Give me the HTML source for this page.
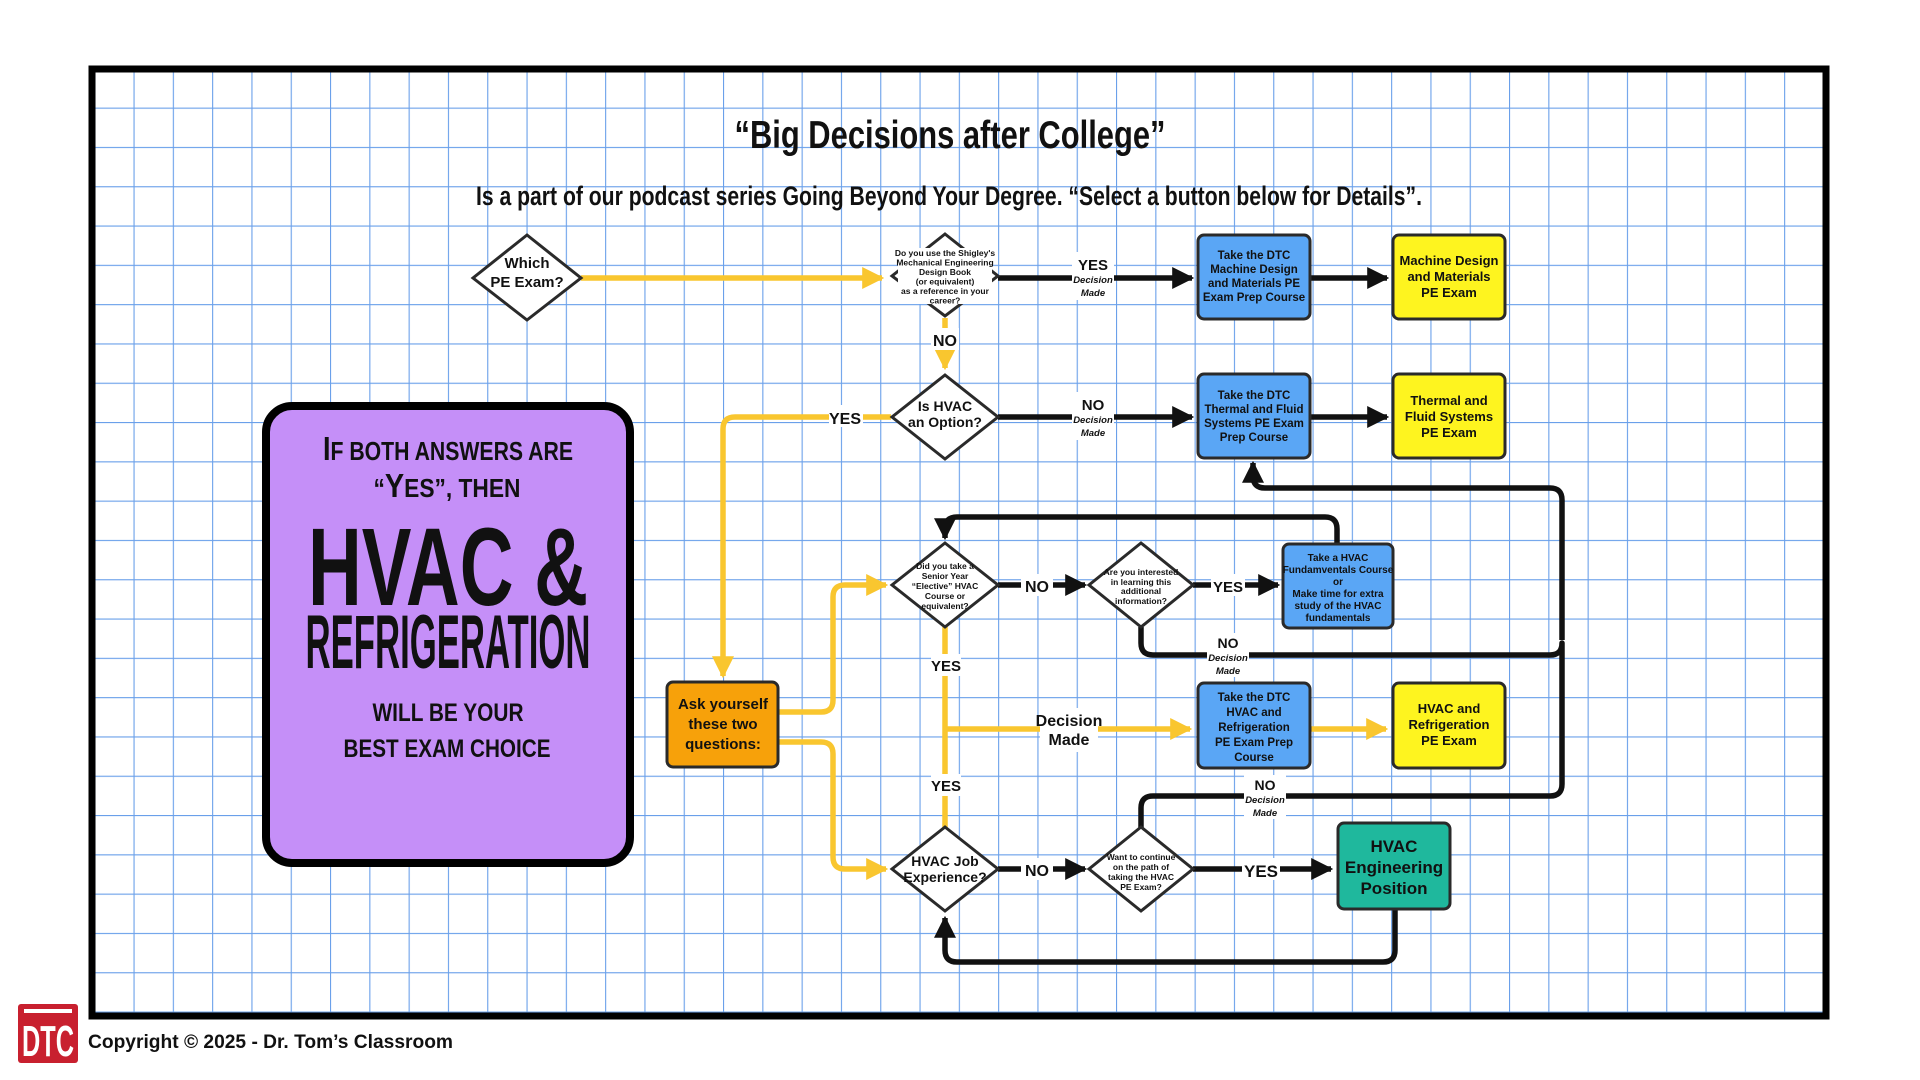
<!DOCTYPE html>
<html><head><meta charset="utf-8"><style>
html,body{margin:0;padding:0;background:#fff;width:1920px;height:1080px;overflow:hidden}
svg{display:block}
text{font-family:"Liberation Sans Narrow","Liberation Sans",sans-serif;font-weight:bold;fill:#111}
</style></head><body>
<svg width="1920" height="1080" viewBox="0 0 1920 1080" xmlns="http://www.w3.org/2000/svg">
<defs>
<pattern id="g" x="94.2" y="68.3" width="39.3" height="39.3" patternUnits="userSpaceOnUse">
<path d="M0 0V39.3M0 0H39.3" stroke="#6aa0ea" stroke-width="2.2" fill="none"/>
</pattern>
<marker id="ab" viewBox="0 0 10 10" refX="9" refY="5" markerWidth="4" markerHeight="4" orient="auto"><path d="M0 0L10 5L0 10z" fill="#111"/></marker>
<marker id="ay" viewBox="0 0 10 10" refX="9" refY="5" markerWidth="4" markerHeight="4" orient="auto"><path d="M0 0L10 5L0 10z" fill="#f9c62f"/></marker>
</defs>
<rect x="92" y="69" width="1734" height="947" fill="url(#g)"/>
<rect x="92" y="69" width="1734" height="947" fill="none" stroke="#000" stroke-width="7"/>

<text x="950" y="148" font-size="39" text-anchor="middle" textLength="431" lengthAdjust="spacingAndGlyphs">“Big Decisions after College”</text>
<text x="949" y="205" font-size="27" text-anchor="middle" textLength="946" lengthAdjust="spacingAndGlyphs">Is a part of our podcast series Going Beyond Your Degree. “Select a button below for Details”.</text>

<g fill="none" stroke="#f9c62f" stroke-width="5.5" stroke-linejoin="round">
<path d="M581 278H882" marker-end="url(#ay)"/>
<path d="M945 318V368" marker-end="url(#ay)"/>
<path d="M891 417H735Q723 417 723 429V676" marker-end="url(#ay)"/>
<path d="M779 712H821Q833 712 833 700V597Q833 585 845 585H886" marker-end="url(#ay)"/>
<path d="M779 742H821Q833 742 833 754V857Q833 869 845 869H886" marker-end="url(#ay)"/>
<path d="M945 627V828"/>
<path d="M945 729H1190" marker-end="url(#ay)"/>
<path d="M1310 729H1386" marker-end="url(#ay)"/>
</g>
<g fill="none" stroke="#111" stroke-width="5.5" stroke-linejoin="round">
<path d="M998 278H1192" marker-end="url(#ab)"/>
<path d="M1310 278H1387" marker-end="url(#ab)"/>
<path d="M998 417H1192" marker-end="url(#ab)"/>
<path d="M1310 417H1387" marker-end="url(#ab)"/>
<path d="M998 585H1085" marker-end="url(#ab)"/>
<path d="M1193 585H1278" marker-end="url(#ab)"/>
<path d="M998 869H1085" marker-end="url(#ab)"/>
<path d="M1193 869H1331" marker-end="url(#ab)"/>
<path d="M1337 544V529Q1337 517 1325 517H957Q945 517 945 529V538" marker-end="url(#ab)"/>
<path d="M1562 640V500Q1562 488 1550 488H1265Q1253 488 1253 476V463" marker-end="url(#ab)"/>
<path d="M1141 627V643Q1141 655 1153 655H1550Q1562 655 1562 643V784Q1562 796 1550 796H1153Q1141 796 1141 808V828"/>
<path d="M1395 909V950Q1395 962 1383 962H957Q945 962 945 950V918" marker-end="url(#ab)"/>
</g>

<g text-anchor="middle">
<rect x="1072" y="252" width="42" height="48" fill="#fff"/>
<text x="1093" y="270" font-size="15">YES</text>
<text x="1093" y="283" font-size="9.5" font-style="italic">Decision</text>
<text x="1093" y="296" font-size="9.5" font-style="italic">Made</text>
<rect x="1072" y="392" width="42" height="48" fill="#fff"/>
<text x="1093" y="410" font-size="15">NO</text>
<text x="1093" y="423" font-size="9.5" font-style="italic">Decision</text>
<text x="1093" y="436" font-size="9.5" font-style="italic">Made</text>
<rect x="931" y="328" width="28" height="22" fill="#fff"/>
<text x="945" y="346" font-size="16">NO</text>
<rect x="829" y="405" width="34" height="22" fill="#fff"/>
<text x="845" y="424" font-size="16">YES</text>
<rect x="1021" y="574" width="32" height="22" fill="#fff"/>
<text x="1037" y="592" font-size="16">NO</text>
<rect x="1211" y="574" width="34" height="22" fill="#fff"/>
<text x="1228" y="592" font-size="15">YES</text>
<rect x="1021" y="858" width="32" height="22" fill="#fff"/>
<text x="1037" y="876" font-size="16">NO</text>
<rect x="1242" y="858" width="38" height="22" fill="#fff"/>
<text x="1261" y="877" font-size="17">YES</text>
<rect x="931" y="654" width="30" height="22" fill="#fff"/>
<text x="946" y="671" font-size="15">YES</text>
<rect x="931" y="774" width="30" height="22" fill="#fff"/>
<text x="946" y="791" font-size="15">YES</text>
<rect x="1040" y="708" width="58" height="44" fill="#fff"/>
<text x="1069" y="726" font-size="16">Decision</text>
<text x="1069" y="745" font-size="16">Made</text>
<rect x="1207" y="633" width="42" height="44" fill="#fff"/>
<text x="1228" y="648" font-size="14">NO</text>
<text x="1228" y="661" font-size="9.5" font-style="italic">Decision</text>
<text x="1228" y="674" font-size="9.5" font-style="italic">Made</text>
<rect x="1244" y="775" width="42" height="44" fill="#fff"/>
<text x="1265" y="790" font-size="14">NO</text>
<text x="1265" y="803" font-size="9.5" font-style="italic">Decision</text>
<text x="1265" y="816" font-size="9.5" font-style="italic">Made</text>
</g>

<g fill="#fff" stroke="#2a2a2a" stroke-width="3">
<path d="M527 235L581 278L527 320L473 278Z"/>
<path d="M945 234L998 276L945 316L892 276Z"/>
<path d="M945 375L998 417L945 459L892 417Z"/>
<path d="M945 543L998 585L945 627L892 585Z"/>
<path d="M1141 543L1193 585L1141 627L1089 585Z"/>
<path d="M945 827L998 869L945 911L892 869Z"/>
<path d="M1141 827L1193 869L1141 911L1089 869Z"/>
</g>
<rect x="898" y="248" width="94" height="56" fill="#fff"/>
<g text-anchor="middle">
<text x="527" y="268" font-size="15">Which</text>
<text x="527" y="287" font-size="15">PE Exam?</text>
<g font-size="8.5">
<text x="945" y="256">Do you use the Shigley's</text>
<text x="945" y="265.5">Mechanical Engineering</text>
<text x="945" y="275">Design Book</text>
<text x="945" y="284.5">(or equivalent)</text>
<text x="945" y="294">as a reference in your</text>
<text x="945" y="303.5">career?</text>
</g>
<text x="945" y="411" font-size="14">Is HVAC</text>
<text x="945" y="427" font-size="14">an Option?</text>
<g font-size="8.5">
<text x="945" y="569">Did you take a</text>
<text x="945" y="579">Senior Year</text>
<text x="945" y="589">“Elective” HVAC</text>
<text x="945" y="599">Course or</text>
<text x="945" y="609">equivalent?</text>
<text x="1141" y="575">Are you interested</text>
<text x="1141" y="585">in learning this</text>
<text x="1141" y="594">additional</text>
<text x="1141" y="604">information?</text>
<text x="1141" y="860">Want to continue</text>
<text x="1141" y="870">on the path of</text>
<text x="1141" y="880">taking the HVAC</text>
<text x="1141" y="890">PE Exam?</text>
</g>
<text x="945" y="866" font-size="14">HVAC Job</text>
<text x="945" y="882" font-size="14">Experience?</text>
</g>

<g stroke="#2a2a2a" stroke-width="3">
<rect x="1198" y="235" width="112" height="84" rx="6" fill="#5aa6f5"/>
<rect x="1393" y="235" width="112" height="84" rx="6" fill="#fef41f"/>
<rect x="1198" y="374" width="112" height="84" rx="6" fill="#5aa6f5"/>
<rect x="1393" y="374" width="112" height="84" rx="6" fill="#fef41f"/>
<rect x="1283" y="544" width="110" height="84" rx="6" fill="#5aa6f5"/>
<rect x="1198" y="683" width="112" height="85" rx="6" fill="#5aa6f5"/>
<rect x="1393" y="683" width="112" height="85" rx="6" fill="#fef41f"/>
<rect x="1338" y="823" width="112" height="86" rx="6" fill="#1fb89d"/>
<rect x="667" y="682" width="111" height="85" rx="6" fill="#f7a10a"/>
</g>
<g text-anchor="middle" font-size="11.5">
<text x="1254" y="259">Take the DTC</text>
<text x="1254" y="273">Machine Design</text>
<text x="1254" y="287">and Materials PE</text>
<text x="1254" y="301">Exam Prep Course</text>
<text x="1449" y="265" font-size="13">Machine Design</text>
<text x="1449" y="281" font-size="13">and Materials</text>
<text x="1449" y="297" font-size="13">PE Exam</text>
<text x="1254" y="399">Take the DTC</text>
<text x="1254" y="413">Thermal and Fluid</text>
<text x="1254" y="427">Systems PE Exam</text>
<text x="1254" y="441">Prep Course</text>
<text x="1449" y="405" font-size="13">Thermal and</text>
<text x="1449" y="421" font-size="13">Fluid Systems</text>
<text x="1449" y="437" font-size="13">PE Exam</text>
<g font-size="10">
<text x="1338" y="561">Take a HVAC</text>
<text x="1338" y="573">Fundamventals Course</text>
<text x="1338" y="585">or</text>
<text x="1338" y="597">Make time for extra</text>
<text x="1338" y="609">study of the HVAC</text>
<text x="1338" y="621">fundamentals</text>
</g>
<text x="1254" y="701">Take the DTC</text>
<text x="1254" y="716">HVAC and</text>
<text x="1254" y="731">Refrigeration</text>
<text x="1254" y="746">PE Exam Prep</text>
<text x="1254" y="761">Course</text>
<text x="1449" y="713" font-size="13">HVAC and</text>
<text x="1449" y="729" font-size="13">Refrigeration</text>
<text x="1449" y="745" font-size="13">PE Exam</text>
<text x="1394" y="852" font-size="17">HVAC</text>
<text x="1394" y="873" font-size="17">Engineering</text>
<text x="1394" y="894" font-size="17">Position</text>
<text x="723" y="709" font-size="15">Ask yourself</text>
<text x="723" y="729" font-size="15">these two</text>
<text x="723" y="749" font-size="15">questions:</text>
</g>

<rect x="266" y="406" width="364" height="457" rx="26" fill="#c58ff8" stroke="#000" stroke-width="8"/>
<g text-anchor="middle">
<text x="448" y="460" font-size="26" textLength="250" lengthAdjust="spacingAndGlyphs"><tspan font-size="33">I</tspan>F BOTH ANSWERS ARE</text>
<text x="447" y="497" font-size="26" textLength="147" lengthAdjust="spacingAndGlyphs">“<tspan font-size="33">Y</tspan>ES”, THEN</text>
<text x="448" y="605" font-size="110" textLength="280" lengthAdjust="spacingAndGlyphs">HVAC &amp;</text>
<text x="448" y="668" font-size="76" textLength="285" lengthAdjust="spacingAndGlyphs">REFRIGERATION</text>
<text x="448" y="721" font-size="25" textLength="151" lengthAdjust="spacingAndGlyphs">WILL BE YOUR</text>
<text x="447" y="757" font-size="25" textLength="207" lengthAdjust="spacingAndGlyphs">BEST EXAM CHOICE</text>
</g>

<rect x="18" y="1004" width="60" height="59" rx="3" fill="#c8202f"/>
<text x="48" y="1056" font-size="44" text-anchor="middle" style="fill:#fff" textLength="52" lengthAdjust="spacingAndGlyphs">DTC</text>
<rect x="24" y="1009" width="48" height="4" fill="#fff"/>
<text x="88" y="1048" font-size="19" style="font-family:'Liberation Sans',sans-serif" textLength="365" lengthAdjust="spacingAndGlyphs">Copyright © 2025 - Dr. Tom’s Classroom</text>
</svg>
</body></html>
